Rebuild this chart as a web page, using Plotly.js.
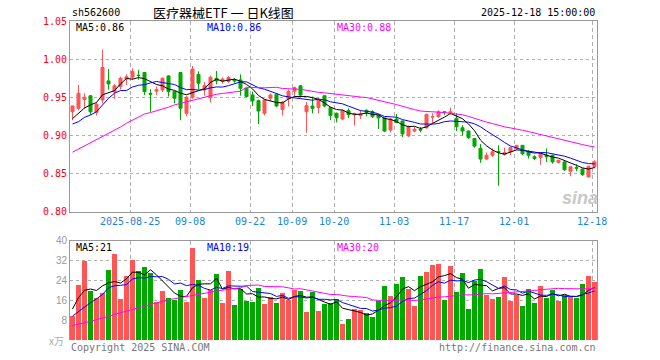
<!DOCTYPE html>
<html><head><meta charset="utf-8">
<script src="https://cdn.plot.ly/plotly-3.0.1.min.js"></script>
<style>html,body{margin:0;padding:0;background:#fff}#c{width:660px;height:360px}</style>
</head><body><div id="c"></div>
<script>
const dates = [
'2025-08-11','2025-08-12','2025-08-13','2025-08-14','2025-08-15','2025-08-18','2025-08-19','2025-08-20','2025-08-21','2025-08-22',
'2025-08-25','2025-08-26','2025-08-27','2025-08-28','2025-08-29','2025-09-01','2025-09-02','2025-09-03','2025-09-04','2025-09-05',
'2025-09-08','2025-09-09','2025-09-10','2025-09-11','2025-09-12','2025-09-15','2025-09-16','2025-09-17','2025-09-18','2025-09-19',
'2025-09-22','2025-09-23','2025-09-24','2025-09-25','2025-09-26','2025-09-29','2025-09-30','2025-10-09','2025-10-10','2025-10-13',
'2025-10-14','2025-10-15','2025-10-16','2025-10-17','2025-10-20','2025-10-21','2025-10-22','2025-10-23','2025-10-24','2025-10-27',
'2025-10-28','2025-10-29','2025-10-30','2025-10-31','2025-11-03','2025-11-04','2025-11-05','2025-11-06','2025-11-07','2025-11-10',
'2025-11-11','2025-11-12','2025-11-13','2025-11-14','2025-11-17','2025-11-18','2025-11-19','2025-11-20','2025-11-21','2025-11-24',
'2025-11-25','2025-11-26','2025-11-27','2025-11-28','2025-12-01','2025-12-02','2025-12-03','2025-12-04','2025-12-05','2025-12-08',
'2025-12-09','2025-12-10','2025-12-11','2025-12-12','2025-12-15','2025-12-16','2025-12-17','2025-12-18'];

const openP = [
.931,.9355,.947,.952,.930,.9465,.9715,.957,.964,.974,
.9763,.979,.9825,.955,.958,.9597,.978,.9575,.9825,.929,
.950,.980,.9596,.9496,.975,.971,.9706,.973,.9728,.9618,
.953,.9456,.929,.9487,.954,.934,.948,.958,.965,.931,
.9386,.9365,.952,.9365,.929,.9215,.9325,.927,.926,.933,
.931,.9265,.923,.907,.9215,.919,.8995,.9057,.908,.910,
.924,.9246,.931,.929,.9225,.910,.9057,.896,.883,.869,
.874,.879,.875,.8785,.883,.887,.8785,.872,.871,.874,
.874,.8645,.8653,.853,.8578,.856,.8456,.8588];
const highP = [
.939,.9662,.955,.953,.943,1.012,.987,.967,.977,.980,
.988,.986,.983,.9605,.964,.976,.979,.958,.983,.952,
.991,.984,.970,.9785,.9845,.976,.978,.975,.980,.962,
.9575,.947,.947,.955,.955,.945,.960,.964,.966,.944,
.951,.9487,.953,.937,.930,.934,.9355,.929,.933,.934,
.933,.927,.9235,.923,.928,.919,.913,.911,.911,.9285,
.929,.933,.932,.9365,.929,.9136,.9065,.896,.8886,.8776,
.883,.887,.884,.885,.8873,.8873,.8807,.874,.878,.883,
.875,.868,.866,.860,.862,.8566,.860,.8675];
const lowP = [
.920,.933,.935,.927,.926,.942,.960,.948,.960,.966,
.973,.973,.953,.931,.953,.957,.951,.942,.920,.925,
.948,.960,.952,.943,.967,.968,.969,.969,.952,.950,
.9386,.915,.926,.945,.937,.926,.938,.951,.952,.9035,
.929,.929,.937,.920,.917,.920,.923,.913,.9215,.925,
.923,.9085,.9045,.904,.916,.898,.898,.904,.904,.909,
.9158,.923,.927,.927,.9057,.900,.8955,.884,.864,.868,
.872,.834,.8735,.874,.8807,.874,.8697,.8675,.8614,.865,
.863,.8632,.8535,.8465,.853,.847,.845,.8566];
const closeP = [
.9386,.9553,.950,.931,.941,.989,.9675,.965,.975,.977,
.9838,.9785,.9575,.954,.960,.975,.9575,.9487,.9355,.950,
.987,.9685,.9653,.9763,.9715,.974,.9759,.9715,.9618,.951,
.9452,.932,.9465,.953,.9386,.9434,.9575,.9627,.953,.939,
.9355,.9465,.9386,.926,.923,.9325,.927,.929,.928,.930,
.9245,.923,.9057,.9215,.917,.902,.9115,.908,.907,.9276,
.9246,.931,.930,.931,.9115,.9057,.897,.886,.869,.874,
.8785,.878,.8776,.884,.887,.876,.874,.8697,.877,.872,
.8653,.8675,.855,.859,.857,.8487,.8597,.8653];
const volume = [
9.5,22,31.6,19.6,16.8,18.8,28,34.4,16.4,25.6,
32,27.6,29.2,26.8,15.3,19.6,16.8,16,20,15.3,
36.8,24,16.8,20,26.5,14.8,27.6,14,20.4,15.7,
15.3,20.8,14.4,17.3,14.9,18.9,16,20.3,19.6,11.3,
19.3,11.7,14.5,14.9,16.3,6.5,8.3,12.3,12,10.7,
9.2,15.7,21.6,17.6,22.4,25.2,20.4,13.6,25.6,27.2,
30.1,30.5,16,29.6,19.2,26.8,12.4,23.6,28.4,18,
16.4,17.2,25.2,15.6,18,13.6,20.4,14.8,21.6,16.8,
20,15.6,18,17.2,16.8,22.4,25.6,23.2];

// moving-average values for the first days (window starts before the chart)
const priceMA5Lead = [.922,.929,.936,.940];
const priceMA10Lead = [.915,.918,.9237,.9268,.931,.940,.9487,.9553,.9588];
const priceMA30Lead = [.878,.882,.886,.890,.894,.898,.902,.906,.911,.916,.920,.925,.928,.930,.932,.934,.937,.940,.942,.944,.946,.948,.950,.952,.954,.955,.956,.957,.958];
const volMA5Lead = [12.5,17,20,20.5];
const volMA10Lead = [9.6,11.5,13.3,15,16.5,18.3,21,21.8,22];
const volMA30Lead = [5.8,6.3,6.8,7.5,8.2,8.7,9.5,10.3,10.9,11.6,12.4,13.0,13.6,14.3,15.0,15.6,16.2,16.6,17.0,17.3,17.7,18.1,18.7,19.2,19.7,20.1,20.5,20.8,21.0];

const tickDates = ['2025-08-25','2025-09-08','2025-09-22','2025-10-09','2025-10-20','2025-11-03','2025-11-17','2025-12-01','2025-12-18'];
const tickText = ['2025-08-25','09-08','09-22','10-09','10-20','11-03','11-17','12-01','12-18'];

const code = 'sh562600';
const chartTitle = '医疗器械ETF 一 日K线图';
const stamp = '2025-12-18 15:00:00';

function ma(arr, n, lead){
  return arr.map((v,i)=>{
    if(i < n-1) return lead[i];
    let s=0; for(let j=i-n+1;j<=i;j++) s+=arr[j];
    return s/n;
  });
}
const idx = dates.map((d,i)=>i);
const pm5 = ma(closeP,5,priceMA5Lead), pm10 = ma(closeP,10,priceMA10Lead), pm30 = ma(closeP,30,priceMA30Lead);
const vm5 = ma(volume,5,volMA5Lead), vm10 = ma(volume,10,volMA10Lead), vm30 = ma(volume,30,volMA30Lead);
const RED='#ff5555', GREEN='#00a800';
const volColors = closeP.map((c,i)=> c>=openP[i] ? RED : GREEN);
const tickPos = tickDates.map(d=>dates.indexOf(d)-0.4);
const last = a => a[a.length-1];

const traces = [
 {type:'candlestick', x:idx, open:openP, high:highP, low:lowP, close:closeP, xaxis:'x', yaxis:'y',
  increasing:{line:{color:RED,width:1}, fillcolor:RED}, decreasing:{line:{color:GREEN,width:1}, fillcolor:GREEN},
  whiskerwidth:0, hoverinfo:'skip', showlegend:false},
 {type:'scatter', mode:'lines', x:idx, y:pm5, line:{color:'#000000',width:1}, xaxis:'x', yaxis:'y', hoverinfo:'skip'},
 {type:'scatter', mode:'lines', x:idx, y:pm10, line:{color:'#0000ff',width:1}, xaxis:'x', yaxis:'y', hoverinfo:'skip'},
 {type:'scatter', mode:'lines', x:idx, y:pm30, line:{color:'#ff00ff',width:1}, xaxis:'x', yaxis:'y', hoverinfo:'skip'},
 {type:'bar', x:idx, y:volume, marker:{color:volColors, line:{width:0}}, width:0.82, xaxis:'x2', yaxis:'y2', hoverinfo:'skip'},
 {type:'scatter', mode:'lines', x:idx, y:vm5, line:{color:'#000000',width:1}, xaxis:'x2', yaxis:'y2', hoverinfo:'skip'},
 {type:'scatter', mode:'lines', x:idx, y:vm10, line:{color:'#0000ff',width:1}, xaxis:'x2', yaxis:'y2', hoverinfo:'skip'},
 {type:'scatter', mode:'lines', x:idx, y:vm30, line:{color:'#ff00ff',width:1}, xaxis:'x2', yaxis:'y2', hoverinfo:'skip'}
];

const L=70, R=597, T=21, B=340, W=R-L, H=B-T;
const px = x => (x-L)/W, py = y => (B-y)/H;
const MONO='DejaVu Sans Mono, Liberation Mono, monospace';
function ann(text,x,y,xa,color,font,size,extra){
  return Object.assign({text:text, x:px(x), y:py(y), xref:'paper', yref:'paper', xanchor:xa, yanchor:'middle', showarrow:false,
    font:{family:font||MONO, size:size||10, color:color||'#000'}}, extra||{});
}
const xr=[-0.417, 87.417];
const layout = {
  width:660, height:360, margin:{l:L, r:660-R, t:T, b:360-B}, paper_bgcolor:'#fff', plot_bgcolor:'#fff',
  showlegend:false, boxgap:0.28, bargap:0,
  font:{family:MONO, size:10},
  xaxis:{domain:[0,1], anchor:'y', range:xr, tickvals:tickPos, ticktext:tickText, showgrid:true, gridcolor:'#b0b0b0', griddash:'4px,3px', gridwidth:1,
    tickfont:{family:MONO, size:10, color:'#1a86d0'}, ticks:'', showline:true, mirror:true, linecolor:'#999', linewidth:1, zeroline:false, rangeslider:{visible:false}, fixedrange:true},
  yaxis:{domain:[py(211.7),1], anchor:'x', range:[0.80,1.05], tickvals:[0.80,0.85,0.90,0.95,1.00,1.05], tickformat:'.2f', showgrid:true, gridcolor:'#b0b0b0', griddash:'dot', gridwidth:1,
    tickfont:{family:MONO, size:10, color:'#ff0000'}, ticks:'', showline:true, mirror:true, linecolor:'#999', linewidth:1, zeroline:false, ticklabelstandoff:0},
  xaxis2:{domain:[0,1], anchor:'y2', matches:'x', range:xr, tickvals:tickPos, showticklabels:false, showgrid:true, gridcolor:'#b0b0b0', griddash:'4px,3px',
    ticks:'', showline:true, side:'top', mirror:false, linecolor:'#999', linewidth:1, zeroline:false},
  yaxis2:{domain:[0,py(240.5)], anchor:'x2', range:[0,40], tickvals:[8,16,24,32,40], showgrid:true, gridcolor:'#b0b0b0', griddash:'dot',
    tickfont:{family:'Liberation Sans, Arial, sans-serif', size:10, color:'#999'}, ticks:'', showline:true, mirror:true, linecolor:'#999', linewidth:1, zeroline:false, ticklabelstandoff:0},
  annotations:[
    ann(code, 70, 12.5, 'left', '#000', null, 10, {height:12}),
    ann(chartTitle, 151, 12, 'left', '#000', 'Noto Sans CJK SC', 13, {height:14}),
    ann(stamp, 597, 12.5, 'right', '#000', null, 10, {height:12}),
    ann('MA5:'+last(pm5).toFixed(2), 74, 27, 'left', '#000', null, 10, {height:12}),
    ann('MA10:'+last(pm10).toFixed(2), 205, 27, 'left', '#0000ff', null, 10, {height:12}),
    ann('MA30:'+last(pm30).toFixed(2), 335, 27, 'left', '#ff00ff', null, 10, {height:12}),
    ann('MA5:'+Math.floor(last(vm5)), 74, 246.5, 'left', '#000', null, 10, {height:12}),
    ann('MA10:'+Math.floor(last(vm10)), 205, 246.5, 'left', '#0000ff', null, 10, {height:12}),
    ann('MA30:'+Math.floor(last(vm30)), 335, 246.5, 'left', '#ff00ff', null, 10, {height:12}),
    ann('x万', 66, 341, 'right', '#aaa', 'Noto Sans CJK SC', 10),
    ann('Copyright 2025 SINA.COM', 69, 347, 'left', '#777'),
    ann('http://finance.sina.com.cn', 598, 347, 'right', '#777'),
    ann('<b><i>sina</i></b>', 580, 198, 'center', '#c8c8c8', 'Liberation Sans, Arial, sans-serif', 18)
  ]
};
Plotly.newPlot('c', traces, layout, {staticPlot:true, displayModeBar:false});
</script></body></html>
